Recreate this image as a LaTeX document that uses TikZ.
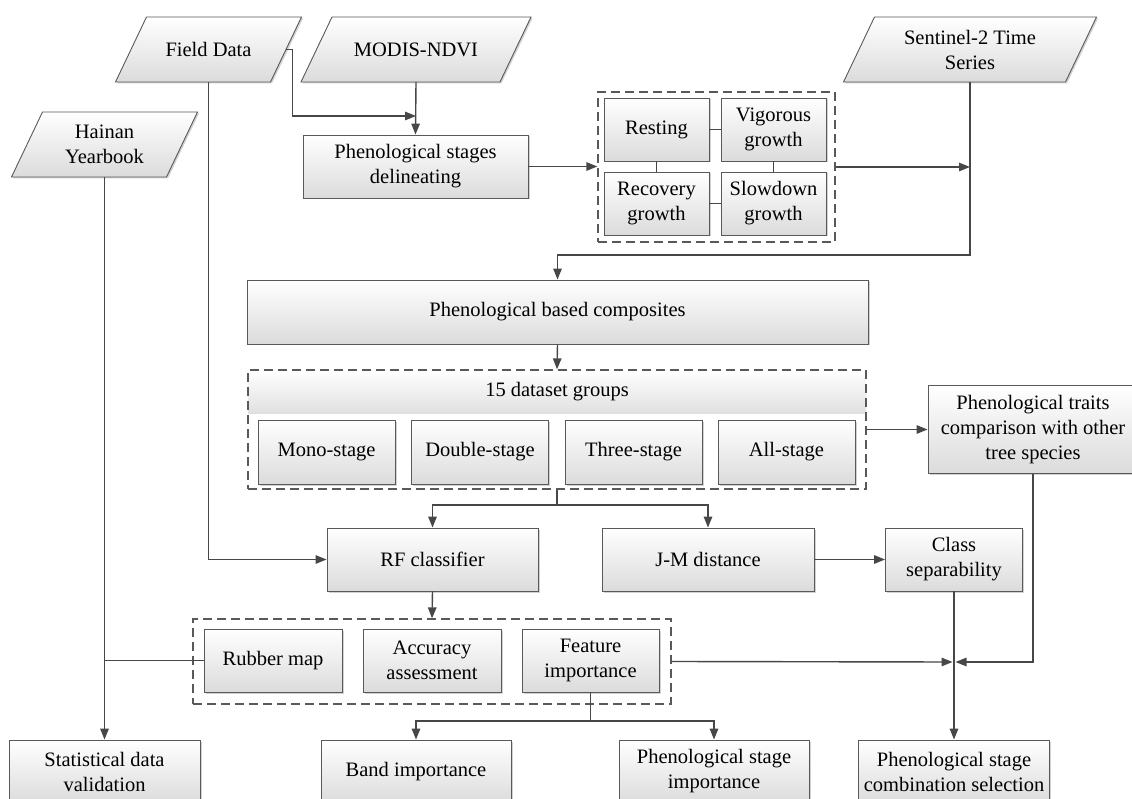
\documentclass[tikz,border=0pt]{standalone}
\usepackage{fontspec}
\setmainfont{Liberation Serif}
\usetikzlibrary{arrows.meta,shadows}
\newcommand\ioshape[5]{% name, cx, cy, edge width, text
  \path[parashape] (#2-#4/2-15.5,#3+32.5) -- ++(#4,0) -- ++(31,-65) -- ++(-#4,0) -- cycle;
  \node[paratext, minimum width=#4] (#1) at (#2,#3) {#5};}
\begin{document}
\begin{tikzpicture}[x=1pt,y=-1pt,
  font=\fontsize{20.5}{25}\selectfont,
  line/.style={draw=black!72, line width=1.4pt},
  arr/.style={line, -{Triangle[length=11pt,width=8.5pt]}},
  boxshadow/.style={drop shadow={shadow xshift=1.5pt, shadow yshift=-1.5pt, fill=black!35, opacity=0.5}},
  box/.style={rectangle, draw=black!65, line width=0.9pt, top color=white, bottom color=black!14,
    align=center, inner sep=2pt, boxshadow},
  group/.style={rectangle, draw=black!65, line width=1.3pt, dash pattern=on 9pt off 5pt},
  band/.style={rectangle, top color=white, bottom color=black!12, inner sep=0pt},
  paratext/.style={rectangle, align=center, inner sep=0pt, minimum height=65pt},
  parashape/.style={draw=black!65, line width=0.9pt, top color=white, bottom color=black!14, boxshadow},
]
\useasboundingbox (0,0) rectangle (1132,799);
\clip (0,0) rectangle (1132,799);

% inputs
\ioshape{fd}{208.5}{49.5}{155}{Field Data}
\ioshape{modis}{416}{49.5}{199}{MODIS-NDVI}
\ioshape{hy}{104.5}{144.5}{155}{Hainan\\Yearbook}
\ioshape{s2}{970}{49.5}{222}{Sentinel-2 Time\\Series}

% top row
\node[box, minimum width=225, minimum height=63] (psd) at (415.5,166.5) {Phenological stages\\delineating};
\node[box, minimum width=105, minimum height=63] (res) at (656.5,129.5) {Resting};
\node[box, minimum width=105, minimum height=63] (vig) at (773.5,129.5) {Vigorous\\growth};
\node[box, minimum width=105, minimum height=63] (rec) at (656.5,203.5) {Recovery\\growth};
\node[box, minimum width=105, minimum height=63] (slo) at (773.5,203.5) {Slowdown\\growth};
\node[group, minimum width=237, minimum height=150] (g1) at (716.5,167) {};

% composites
\node[box, minimum width=621, minimum height=64] (comp) at (557.5,312) {Phenological based composites};
\node[band, minimum width=618, minimum height=43] (dsg) at (557,391.5) {15 dataset groups};
\node[box, minimum width=137, minimum height=64] (mono) at (326.5,452) {Mono-stage};
\node[box, minimum width=137, minimum height=64] (dbl) at (480,452) {Double-stage};
\node[box, minimum width=137, minimum height=64] (three) at (633.5,452) {Three-stage};
\node[box, minimum width=137, minimum height=64] (all) at (786.5,452) {All-stage};
\node[group, minimum width=618, minimum height=119] (g2) at (557,429.5) {};
\node[box, minimum width=210, minimum height=88] (traits) at (1033,429.5) {Phenological traits\\comparison with other\\tree species};

% classifier row
\node[box, minimum width=211, minimum height=63] (rf) at (432.5,559.5) {RF classifier};
\node[box, minimum width=212, minimum height=63] (jm) at (708,559.5) {J-M distance};
\node[box, minimum width=137, minimum height=63] (cs) at (954,559.5) {Class\\separability};

% outputs
\node[box, minimum width=138, minimum height=63] (rm) at (273,660.5) {Rubber map};
\node[box, minimum width=138, minimum height=63] (acc) at (432,660.5) {Accuracy\\assessment};
\node[box, minimum width=137, minimum height=63] (fi) at (590.5,660.5) {Feature\\importance};
\node[group, minimum width=478, minimum height=85] (g3) at (432,661.5) {};

% bottom row
\node[box, minimum width=191, minimum height=63] (stat) at (104.5,771.5) {Statistical data\\validation};
\node[box, minimum width=190, minimum height=63] (band) at (416,771.5) {Band importance};
\node[box, minimum width=190, minimum height=63] (psi) at (714,771.5) {Phenological stage\\importance};
\node[box, minimum width=191, minimum height=63] (comb) at (954,771.5) {Phenological stage\\combination selection};

% connectors
\coordinate (mj) at (416,116);
\draw[arr] (modis.south) -- (psd.north);
\draw[arr] (fd.east) -- ++(6,0) |- (mj);
\draw[arr] (psd.east) -- (psd.east -| g1.west);
\draw[line] (res) -- (vig);
\draw[line] (res) -- (rec);
\draw[line] (vig) -- (slo);
\draw[line] (rec) -- (slo);
\coordinate (s2j) at (970,167);
\draw[arr] (g1.east) -- (s2j);
\coordinate (s2k) at (970,255);
\draw[arr] (s2.south) -- (s2k) -| (comp.north);
\draw[arr] (comp.south) -- (g2.north);
\coordinate (b1) at (557,505);
\draw[arr] (g2.south) -- (b1) -| (rf.north);
\draw[arr] (b1) -| (jm.north);
\coordinate (fdk) at (208.5,559.5);
\draw[arr] (fd.south) -- (fdk) -- (rf.west);
\draw[arr] (g2.east) -- (traits.west);
\draw[arr] (jm.east) -- (cs.west);
\draw[arr] (rf.south) -- (g3.north);
\coordinate (jx) at (954,662);
\draw[arr] (cs.south) -- (comb.north);
\draw[arr, shorten >=1.5pt] (g3.east) -- (jx);
\draw[arr, shorten >=1.5pt] (traits.south) |- (jx);
\draw[arr] (hy.south) -- (stat.north);
\draw[line] (rm.west) -- (rm.west -| hy.south);
\coordinate (fk) at (590.5,721);
\draw[arr] (fi.south) -- (fk) -| (band.north);
\draw[arr] (fk) -| (psi.north);
\end{tikzpicture}
\end{document}
